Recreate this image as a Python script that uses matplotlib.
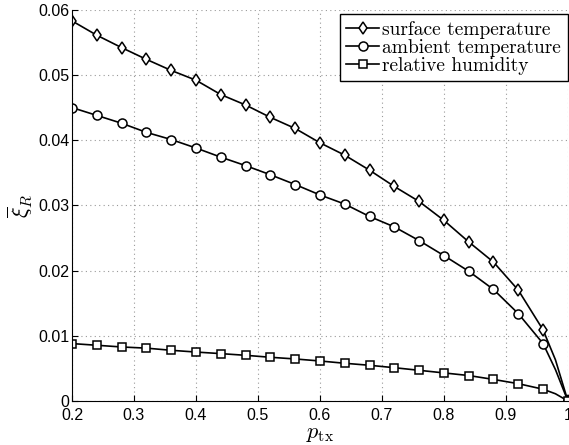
import matplotlib.pyplot as plt

# data (markers every 0.04, extra line point at 0.98)
p_tx = [0.20, 0.24, 0.28, 0.32, 0.36, 0.40, 0.44, 0.48, 0.52, 0.56, 0.60,
        0.64, 0.68, 0.72, 0.76, 0.80, 0.84, 0.88, 0.92, 0.96, 0.98, 1.00]
surface_temp = [0.0583, 0.0561, 0.0542, 0.0524, 0.0507, 0.0492, 0.0470, 0.0454,
                0.0435, 0.0418, 0.0396, 0.0377, 0.0354, 0.0329, 0.0306, 0.0277,
                0.0244, 0.0213, 0.0170, 0.0109, 0.0063, 0.0]
ambient_temp = [0.0450, 0.0438, 0.0426, 0.0412, 0.0401, 0.0388, 0.0374, 0.0361,
                0.0347, 0.0332, 0.0316, 0.0302, 0.0283, 0.0267, 0.0246, 0.0223,
                0.0199, 0.0171, 0.0134, 0.0088, 0.0048, 0.0]
rel_humidity = [0.0088, 0.00854, 0.00828, 0.0081, 0.00777, 0.0075, 0.00726, 0.0070,
                0.0067, 0.00644, 0.00613, 0.00578, 0.00547, 0.0051, 0.0047, 0.0043,
                0.0039, 0.0033, 0.00265, 0.0018, 0.0011, 0.0]
labels = ['surface temperature', 'ambient temperature', 'relative humidity']

marks = [i for i, x in enumerate(p_tx) if abs(x - 0.98) > 1e-9]

plt.rcParams['mathtext.fontset'] = 'cm'
plt.rcParams['font.family'] = ['Liberation Sans', 'DejaVu Sans']

fig = plt.figure(figsize=(5.69, 4.45), dpi=100)
ax = fig.add_axes([0.1265, 0.099, 0.8715, 0.879])

for y, m, lab in zip([surface_temp, ambient_temp, rel_humidity], ['d', 'o', 's'], labels):
    ax.plot(p_tx, y, color='black', lw=1.2, marker=m, markevery=marks,
            markersize=6.5 if m != 's' else 5.5, markerfacecolor='white',
            markeredgecolor='black', markeredgewidth=1.1, label=lab)

ax.set_xlim(0.2, 1.0)
ax.set_ylim(0, 0.06)
ax.set_xticks([0.2, 0.3, 0.4, 0.5, 0.6, 0.7, 0.8, 0.9, 1.0])
ax.set_xticklabels(['0.2', '0.3', '0.4', '0.5', '0.6', '0.7', '0.8', '0.9', '1'])
ax.set_yticks([0, 0.01, 0.02, 0.03, 0.04, 0.05, 0.06])
ax.set_yticklabels(['0', '0.01', '0.02', '0.03', '0.04', '0.05', '0.06'])
ax.tick_params(direction='in', length=4, labelsize=11.5)
ax.tick_params(axis='x', pad=5)
ax.tick_params(axis='y', pad=2)
ax.grid(True, linestyle=(0, (1, 3)), color='#999999', lw=0.8)
ax.spines['top'].set_visible(False)
ax.spines['right'].set_visible(False)

ax.set_xlabel(r'$p_{\mathrm{tx}}$', fontsize=16, labelpad=0)
ax.set_ylabel(r'$\overline{\xi}_R$', fontsize=16, labelpad=3)

leg = ax.legend(loc='upper right', bbox_to_anchor=(1.0, 0.99),
                prop={'family': 'serif', 'size': 14},
                handlelength=1.7, handletextpad=0.15, borderpad=0.35,
                labelspacing=0.0, fancybox=False, edgecolor='black',
                framealpha=1, borderaxespad=0.0)
for t in leg.get_texts():
    t.set_fontfamily('cmr10')
leg.get_frame().set_linewidth(1.0)

fig.savefig('out.png', dpi=100)
